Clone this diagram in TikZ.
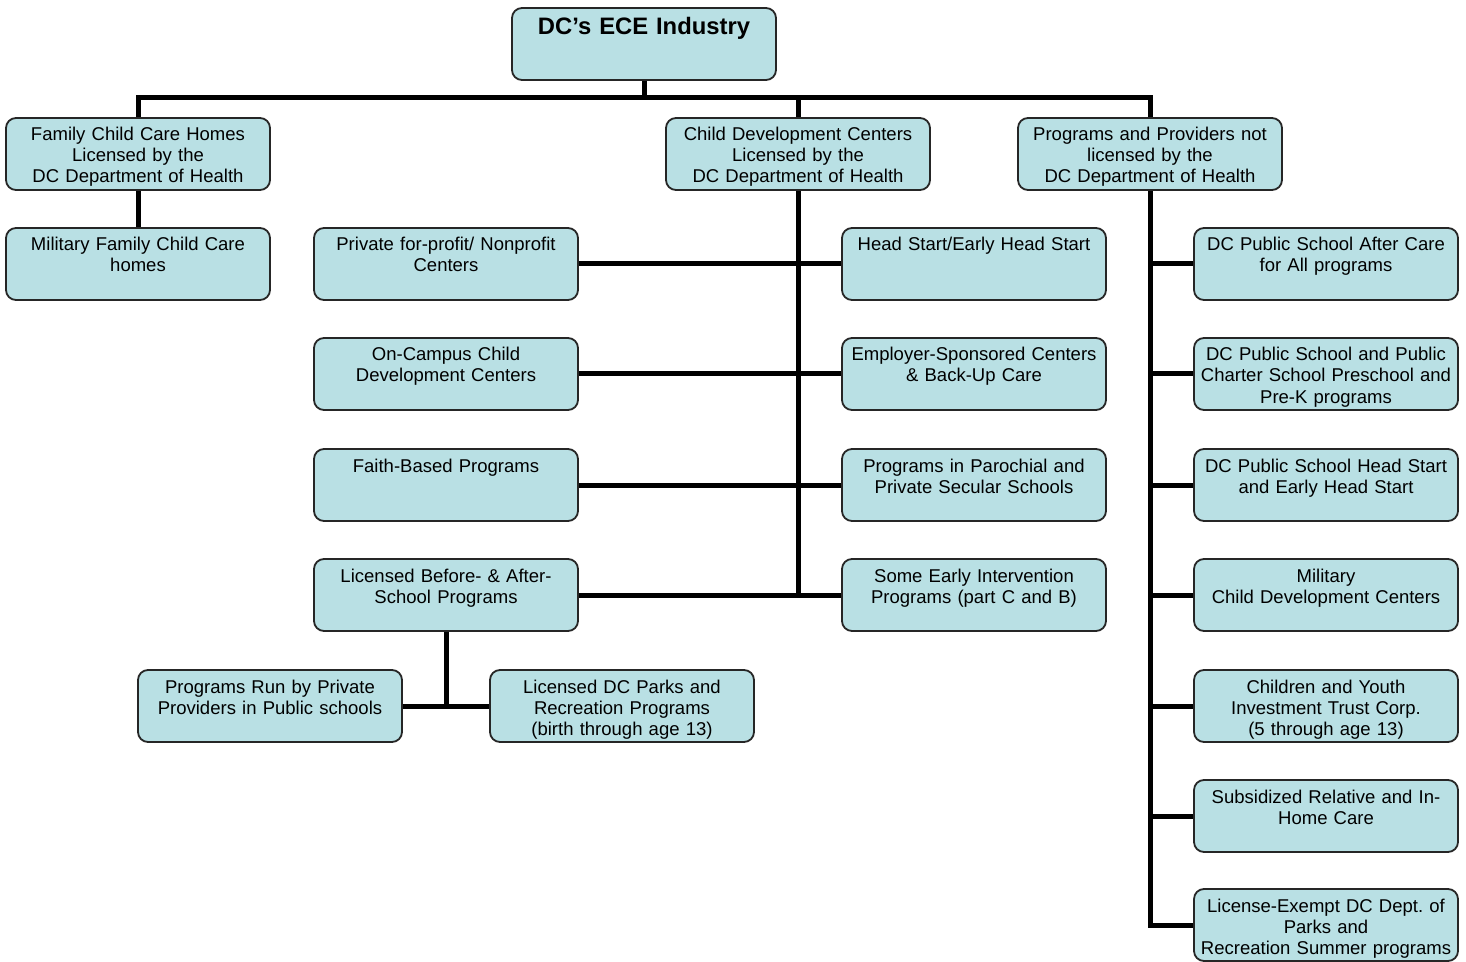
\documentclass[tikz,border=0pt]{standalone}
\usepackage{fontspec}
\setmainfont{Liberation Sans}
\definecolor{boxfill}{RGB}{185,224,228}
\tikzset{
  orgbox/.style={draw=black!85, line width=0.9pt, fill=boxfill, rounded corners=5pt,
    text width=128pt, inner xsep=2pt, inner ysep=2pt, align=center,
    font=\fontsize{9.26}{10.5}\selectfont, text height=9.5pt, text depth=22.5pt},
  titlebox/.style={orgbox, font=\bfseries\fontsize{11.9}{13}\selectfont,
    text height=11.25pt, text depth=20.75pt},
  link/.style={line width=2.5pt}
}
\begin{document}
\begin{tikzpicture}[x=0.5pt,y=-0.5pt]
  \useasboundingbox (0,0) rectangle (1466,962);
  % top and first row
  \node[titlebox] (ece) at (644,44) {DC’s ECE Industry};
  \node[orgbox] (family) at (138,154) {Family Child Care Homes\\Licensed by the\\DC Department of Health};
  \node[orgbox] (cdc) at (798,154) {Child Development Centers\\Licensed by the\\DC Department of Health};
  \node[orgbox] (notlic) at (1150,154) {Programs and Providers not\\licensed by the\\DC Department of Health};
  \node[orgbox] (milfam) at (138,264) {Military Family Child Care\\homes};
  % licensed centers, left and right of the trunk
  \node[orgbox] (private) at (446,264) {Private for-profit/ Nonprofit\\Centers};
  \node[orgbox] (campus) at (446,374) {On-Campus Child\\Development Centers};
  \node[orgbox] (faith) at (446,485) {Faith-Based Programs};
  \node[orgbox] (before) at (446,595) {Licensed Before- \& After-\\School Programs};
  \node[orgbox] (head) at (974,264) {Head Start/Early Head Start};
  \node[orgbox] (employer) at (974,374) {Employer-Sponsored Centers\\\& Back-Up Care};
  \node[orgbox] (parochial) at (974,485) {Programs in Parochial and\\Private Secular Schools};
  \node[orgbox] (early) at (974,595) {Some Early Intervention\\Programs (part C and B)};
  \node[orgbox] (run) at (270,706) {Programs Run by Private\\Providers in Public schools};
  \node[orgbox] (parks) at (622,706) {Licensed DC Parks and\\Recreation Programs\\(birth through age 13)};
  % not licensed
  \node[orgbox] (after) at (1326,264) {DC Public School After Care\\for All programs};
  \node[orgbox] (prek) at (1326,374) {DC Public School and Public\\Charter School Preschool and\\Pre-K programs};
  \node[orgbox] (dchead) at (1326,485) {DC Public School Head Start\\and Early Head Start};
  \node[orgbox] (milcdc) at (1326,595) {Military\\Child Development Centers};
  \node[orgbox] (trust) at (1326,706) {Children and Youth\\Investment Trust Corp.\\(5 through age 13)};
  \node[orgbox] (relative) at (1326,816) {Subsidized Relative and In-\\Home Care};
  \node[orgbox] (exempt) at (1326,925) {License-Exempt DC Dept.\ of\\Parks and\\Recreation Summer programs};

  \coordinate (bar) at (644,98);
  \draw[link] (ece) -- (bar);
  \draw[link] (family.north) |- (bar) -| (notlic.north);
  \draw[link] (cdc.north) -- (cdc.north |- bar);
  \draw[link] (family) -- (milfam);
  % trunk of the licensed centers
  \draw[link] (cdc.south) -- (cdc.south |- early.west);
  \draw[link] (private.east) -- (head.west);
  \draw[link] (campus.east) -- (employer.west);
  \draw[link] (faith.east) -- (parochial.west);
  \draw[link] (before.east) -- (early.west);
  \draw[link] (before.south) -- (before.south |- run.east);
  \draw[link] (run.east) -- (parks.west);
  % trunk of the programs not licensed
  \draw[link] (notlic.south) |- (exempt.west);
  \foreach \b in {after,prek,dchead,milcdc,trust,relative}
    \draw[link] (notlic.south |- \b.west) -- (\b.west);
\end{tikzpicture}
\end{document}
